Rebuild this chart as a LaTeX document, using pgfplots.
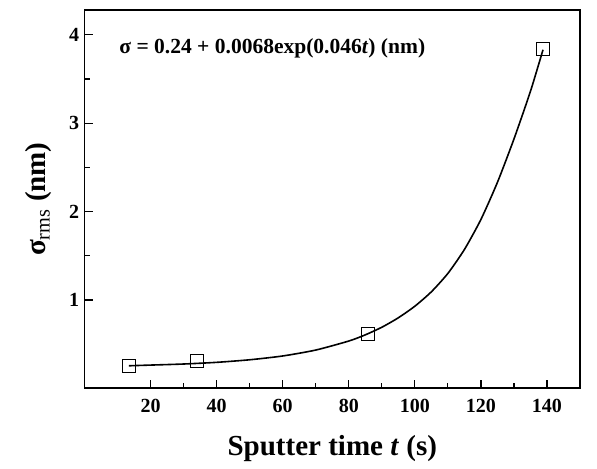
\documentclass[border=0pt]{standalone}
\usepackage{pgfplots}
\pgfplotsset{compat=1.18}
\usepackage{fontspec}
\setmainfont{Liberation Serif}
\begin{document}
\begin{tikzpicture}
\begin{axis}[
  name=ax,
  scale only axis,
  width=495pt, height=378pt,
  xmin=0, xmax=150, ymin=0, ymax=4.28,
  xtick={20,40,...,140}, ytick={1,2,3,4},
  minor x tick num=1, minor y tick num=1,
  tick align=inside,
  xtick pos=bottom, ytick pos=left,
  major tick length=8pt, minor tick length=5pt,
  every tick/.style={line width=1.2pt,black},
  axis line style={line width=1.8pt},
  /pgf/number format/assume math mode=true,
  ticklabel style={font=\fontsize{20}{22}\selectfont\bfseries},
  xticklabel style={yshift=-7pt},
  yticklabel style={xshift=-2pt},
  xlabel={Sputter time \textit{t} (s)},
  ylabel={σ\textsubscript{\mdseries rms} (nm)},
  label style={font=\fontsize{29}{32}\selectfont\bfseries},
  xlabel style={yshift=-16pt},
  ylabel style={yshift=10pt},
]
\addplot[black, line width=1.6pt, smooth, tension=0.4] coordinates {
 (13.4,0.255) (20,0.263) (30,0.275) (40,0.294) (50,0.323) (60,0.366) (70,0.433)
 (80,0.535) (85,0.605) (90,0.691) (95,0.798) (100,0.929) (105,1.092) (110,1.30)
 (115,1.57) (120,1.91) (125,2.33) (130,2.82) (135,3.36) (138.8,3.83)
};
\addplot[only marks, mark=square, mark size=6.5pt, mark options={black, line width=0.9pt, fill=none}] coordinates {
 (13.4,0.25) (34,0.31) (85.8,0.62) (138.8,3.84)
};
\node[anchor=west, font=\fontsize{21.5}{23}\selectfont\bfseries] at (axis cs:9.5,3.85) {σ = 0.24 + 0.0068exp(0.046\textit{t}) (nm)};
\end{axis}
\path ([shift={(-84.5pt,-80pt)}]ax.south west) rectangle ([shift={(17pt,10pt)}]ax.north east);
\end{tikzpicture}
\end{document}
